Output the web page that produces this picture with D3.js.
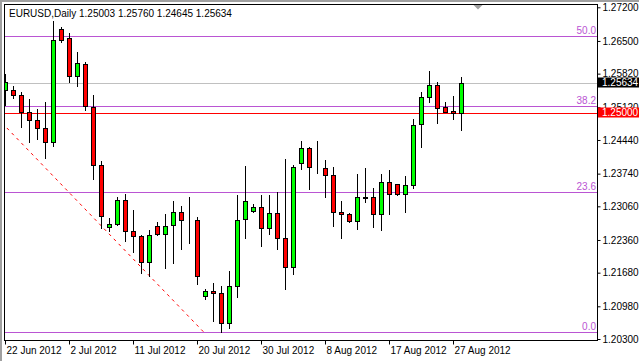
<!DOCTYPE html>
<html>
<head>
<meta charset="utf-8">
<script src="https://cdnjs.cloudflare.com/ajax/libs/d3/7.8.5/d3.min.js"></script>
<style>
body { margin: 0; background: #fff; }
svg text { font-family: "Liberation Sans", Arial, sans-serif; font-size: 10px; }
</style>
</head>
<body>
<div id="chart"></div>
<script>
// EURUSD daily bars, 22 Jun 2012 .. 28 Aug 2012 (Sunday bars included, as in the terminal)
var title = "EURUSD,Daily  1.25003 1.25760 1.24645 1.25634";
var opens  = [1.2547, 1.2547, 1.2538, 1.2502, 1.2486, 1.2468, 1.2439, 1.2675, 1.2656, 1.2578,
              1.2603, 1.2513, 1.2391, 1.2262, 1.2269, 1.2319, 1.2254, 1.2244, 1.2190, 1.2266,
              1.2248, 1.2267, 1.2294, 1.2277, 1.2278, 1.2120, 1.2130, 1.2126, 1.2063, 1.2140,
              1.2279, 1.2296, 1.2304, 1.2260, 1.2292, 1.2240, 1.2179, 1.2396, 1.2427, 1.2386,
              1.2385, 1.2371, 1.2294, 1.2289, 1.2275, 1.2324, 1.2325, 1.2289, 1.2356, 1.2352,
              1.2332, 1.2350, 1.2477, 1.2533, 1.2558, 1.2513, 1.2504, 1.25003];
var highs  = [1.2581, 1.2556, 1.2544, 1.2529, 1.2509, 1.2523, 1.2692, 1.2680, 1.2667, 1.2626,
              1.2607, 1.2537, 1.2400, 1.2281, 1.2326, 1.2332, 1.2298, 1.2246, 1.2256, 1.2273,
              1.2290, 1.2317, 1.2307, 1.2325, 1.2283, 1.2134, 1.2147, 1.2141, 1.2172, 1.2330,
              1.2390, 1.2310, 1.2330, 1.2329, 1.2336, 1.2404, 1.2392, 1.2442, 1.2429, 1.2442,
              1.2402, 1.2387, 1.2317, 1.2292, 1.2373, 1.2386, 1.2344, 1.2373, 1.2382, 1.2352,
              1.2369, 1.2487, 1.2543, 1.2587, 1.2565, 1.2523, 1.2536, 1.25760];
var lows   = [1.2517, 1.2532, 1.2470, 1.2440, 1.2445, 1.2406, 1.2432, 1.2647, 1.2565, 1.2557,
              1.2506, 1.2363, 1.2260, 1.2255, 1.2268, 1.2234, 1.2212, 1.2168, 1.2162, 1.2246,
              1.2177, 1.2189, 1.2217, 1.2229, 1.2145, 1.2113, 1.2068, 1.2045, 1.2052, 1.2118,
              1.2241, 1.2295, 1.2223, 1.2249, 1.2218, 1.2135, 1.2166, 1.2383, 1.2341, 1.2375,
              1.2326, 1.2266, 1.2241, 1.2274, 1.2259, 1.2316, 1.2264, 1.2256, 1.2289, 1.2329,
              1.2295, 1.2345, 1.2430, 1.2524, 1.2480, 1.2503, 1.2488, 1.24645];
var closes = [1.2565, 1.2537, 1.2502, 1.2485, 1.2468, 1.2439, 1.2651, 1.2653, 1.2578, 1.2604,
              1.2515, 1.2391, 1.2285, 1.2269, 1.2319, 1.2254, 1.2244, 1.2190, 1.2246, 1.2248,
              1.2266, 1.2294, 1.2277, 1.2278, 1.2162, 1.2130, 1.2125, 1.2063, 1.2140, 1.2278,
              1.2318, 1.2304, 1.2260, 1.2292, 1.2240, 1.2179, 1.2387, 1.2427, 1.2387, 1.2385,
              1.2371, 1.2294, 1.2289, 1.2275, 1.2325, 1.2325, 1.2289, 1.2356, 1.2331, 1.2331,
              1.2350, 1.2475, 1.2533, 1.2558, 1.2510, 1.2503, 1.2500, 1.25634];

var dateLabels = ["22 Jun 2012", "2 Jul 2012", "11 Jul 2012", "20 Jul 2012",
                  "30 Jul 2012", "8 Aug 2012", "17 Aug 2012", "27 Aug 2012"];
var dateLabelBars = [0, 8, 16, 24, 32, 40, 48, 56];
var priceTicks = [1.27200, 1.26500, 1.25820, 1.25120, 1.24440, 1.23740,
                  1.23060, 1.22360, 1.21680, 1.20980, 1.20300];

// fibonacci retracement drawn from the high to the low
var fibLevels = [0.0, 23.6, 38.2, 50.0];
var fibHigh = 1.3276, fibHighBar = -46.6;
var fibLow = 1.2044, fibLowBar = 24.8;
var levelLine = 1.25000;
var bidPrice = 1.25634;

var width = 639, height = 361;
var plot = { left: 5, top: 5, right: 597, bottom: 340 };

var svg = d3.select("#chart").append("svg")
    .attr("width", width)
    .attr("height", height);

// scales
var x = d3.scaleLinear().domain([0, 57]).range([5.5, 461.5]);
var y = d3.scaleLinear().domain([1.203, 1.272]).range([339, 7.3]);
function snap(v) { return Math.round(v) + 0.5; }

// window border
svg.append("rect").attr("x", 0).attr("y", 0).attr("width", width).attr("height", 2).style("fill", "#a0a0a0");
svg.append("rect").attr("x", 0).attr("y", 0).attr("width", 2).attr("height", height).style("fill", "#a0a0a0");

svg.append("clipPath").attr("id", "plotclip")
    .append("rect")
    .attr("x", plot.left).attr("y", plot.top)
    .attr("width", plot.right - plot.left).attr("height", plot.bottom - plot.top);

var g = svg.append("g").attr("clip-path", "url(#plotclip)");

// fib levels
var fibPrice = function (lv) { return fibLow + (fibHigh - fibLow) * lv / 100; };
g.selectAll(".fib")
    .data(fibLevels)
    .enter().append("line")
    .attr("class", "fib")
    .attr("x1", plot.left).attr("x2", plot.right)
    .attr("y1", function (d) { return snap(y(fibPrice(d))); })
    .attr("y2", function (d) { return snap(y(fibPrice(d))); })
    .style("stroke", "#ba55d3");

// fib trend line
g.append("line")
    .attr("x1", x(fibHighBar)).attr("y1", y(fibHigh))
    .attr("x2", x(fibLowBar)).attr("y2", y(fibLow))
    .style("stroke", "#ff0000")
    .style("stroke-dasharray", "3,4");

// bid line and horizontal level
g.append("line")
    .attr("x1", plot.left).attr("x2", plot.right)
    .attr("y1", snap(y(bidPrice))).attr("y2", snap(y(bidPrice)))
    .style("stroke", "#c0c0c0");
g.append("line")
    .attr("x1", plot.left).attr("x2", plot.right)
    .attr("y1", snap(y(levelLine))).attr("y2", snap(y(levelLine)))
    .style("stroke", "#ff0000");

// candles
var bars = d3.range(opens.length);
var candle = g.selectAll(".candle")
    .data(bars)
    .enter().append("g")
    .attr("class", "candle");

candle.append("line")
    .attr("x1", function (i) { return x(i); })
    .attr("x2", function (i) { return x(i); })
    .attr("y1", function (i) { return snap(y(highs[i])) - 0.5; })
    .attr("y2", function (i) { return snap(y(lows[i])) + 0.5; })
    .style("stroke", "#000");

candle.append("rect")
    .attr("x", function (i) { return x(i) - 2; })
    .attr("width", 4)
    .attr("y", function (i) { return snap(y(Math.max(opens[i], closes[i]))); })
    .attr("height", function (i) {
        return snap(y(Math.min(opens[i], closes[i]))) - snap(y(Math.max(opens[i], closes[i])));
    })
    .style("fill", function (i) { return closes[i] >= opens[i] ? "#00ff00" : "#ff0000"; })
    .style("stroke", "#000");

// fib labels
svg.selectAll(".fiblabel")
    .data(fibLevels)
    .enter().append("text")
    .attr("class", "fiblabel")
    .attr("x", plot.right - 1)
    .attr("y", function (d) { return snap(y(fibPrice(d))) - 2.5; })
    .attr("text-anchor", "end")
    .style("fill", "#ba55d3")
    .text(function (d) { return d.toFixed(1); });

// chart shift marker
svg.append("path")
    .attr("d", "M" + (x(59) - 4) + "," + plot.top + "h9l-4.5,4.5z")
    .style("fill", "#a0a0a0");

// frame
svg.append("rect")
    .attr("x", plot.left - 0.5).attr("y", plot.top - 0.5)
    .attr("width", plot.right - plot.left + 1).attr("height", plot.bottom - plot.top + 1)
    .style("fill", "none").style("stroke", "#000");

// price axis
var yAxis = d3.axisRight(y)
    .tickValues(priceTicks)
    .tickFormat(d3.format(".5f"))
    .tickSize(3)
    .tickPadding(2);
var ya = svg.append("g")
    .attr("transform", "translate(" + (plot.right + 0.5) + ",0)")
    .call(yAxis);
ya.select(".domain").remove();
ya.selectAll("text").style("font-family", null).style("font-size", null).attr("fill", "#000");
ya.attr("font-family", null).attr("font-size", null);

// date axis
var xd = d3.scaleLinear().domain([0, 57]).range([5, 461]);
var xAxis = d3.axisBottom(xd)
    .tickValues(dateLabelBars)
    .tickFormat(function (d, k) { return dateLabels[k]; })
    .tickSize(4)
    .tickPadding(2);
var xa = svg.append("g")
    .attr("transform", "translate(0," + (plot.bottom + 0.5) + ")")
    .call(xAxis);
xa.select(".domain").remove();
xa.selectAll("text").attr("text-anchor", "start").attr("x", 1).attr("fill", "#000");
xa.attr("font-family", null).attr("font-size", null);

// price boxes
var boxes = [{ p: bidPrice, fill: "#000" }, { p: levelLine, fill: "#ff0000" }];
var box = svg.selectAll(".pbox")
    .data(boxes)
    .enter().append("g")
    .attr("class", "pbox");
box.append("rect")
    .attr("x", plot.right + 1)
    .attr("y", function (d) { return snap(y(d.p)) - 6; })
    .attr("width", width - plot.right - 1)
    .attr("height", 10)
    .style("fill", function (d) { return d.fill; });
box.append("text")
    .attr("x", plot.right + 5)
    .attr("y", function (d) { return snap(y(d.p)) - 1; })
    .attr("dy", "0.32em")
    .style("fill", "#fff")
    .text(function (d) { return d.p.toFixed(5); });

// title
svg.append("text")
    .attr("x", 9)
    .attr("y", 17)
    .style("fill", "#000")
    .text(title);
</script>
</body>
</html>
